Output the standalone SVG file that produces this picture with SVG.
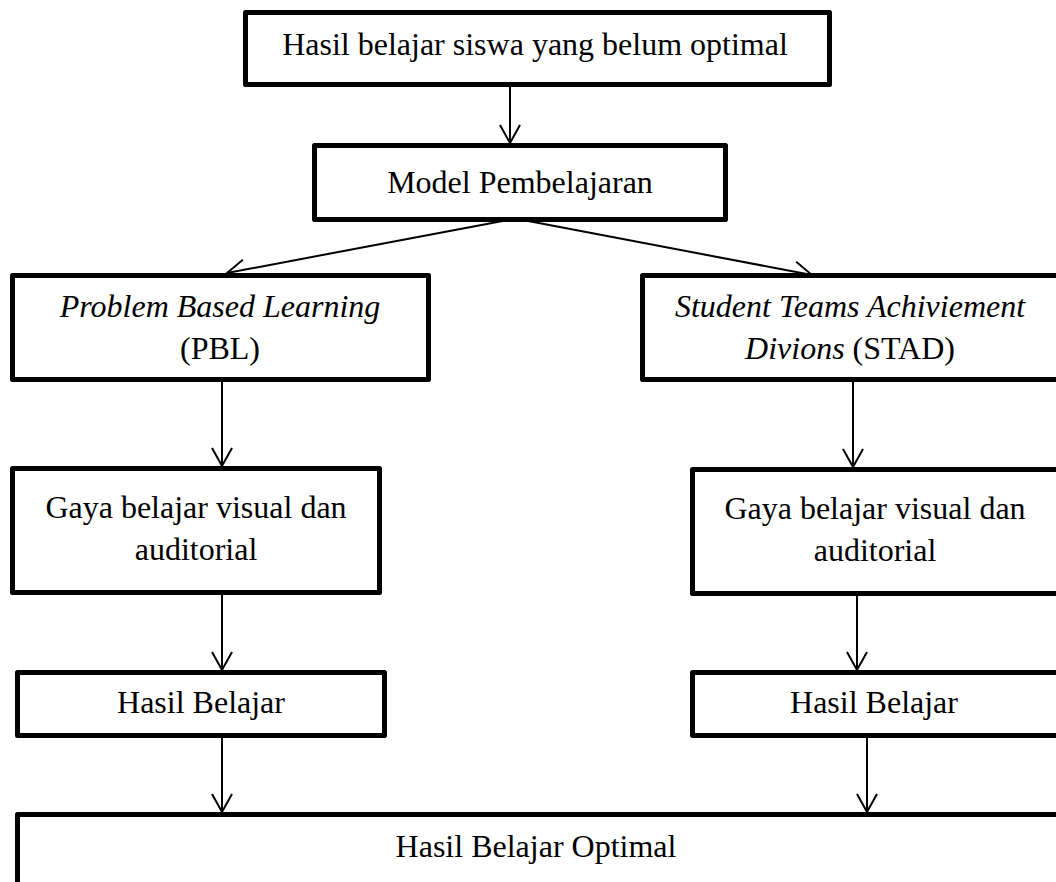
<svg xmlns="http://www.w3.org/2000/svg" width="1056" height="882" viewBox="0 0 1056 882">
<style>
.box{fill:#fff;stroke:#000;stroke-width:5;stroke-linejoin:round}
.t{font-family:"Liberation Serif","Times New Roman",serif;font-size:32px;fill:#000;text-anchor:middle}
.i{font-style:italic}
.c{stroke:#000;stroke-width:2;fill:none}
</style>
<defs>
<marker id="ah" markerUnits="userSpaceOnUse" markerWidth="24" markerHeight="24" viewBox="-20 -12 22 24" refX="0" refY="0" orient="auto">
<path d="M-18,-10 L0,0 L-18,10" fill="none" stroke="#000" stroke-width="2"/>
</marker>
</defs>
<rect width="1056" height="882" fill="#fff"/>
<g id="connectors">
<line class="c" x1="510" y1="87" x2="510" y2="143" marker-end="url(#ah)"/>
<line class="c" x1="508" y1="220" x2="227" y2="273" marker-end="url(#ah)"/>
<line class="c" x1="523" y1="220" x2="812" y2="275" marker-end="url(#ah)"/>
<line class="c" x1="222" y1="382" x2="222" y2="466" marker-end="url(#ah)"/>
<line class="c" x1="853" y1="382" x2="853" y2="467" marker-end="url(#ah)"/>
<line class="c" x1="222" y1="595" x2="222" y2="670" marker-end="url(#ah)"/>
<line class="c" x1="857" y1="596" x2="857" y2="670" marker-end="url(#ah)"/>
<line class="c" x1="222" y1="738" x2="222" y2="812" marker-end="url(#ah)"/>
<line class="c" x1="867" y1="738" x2="867" y2="812" marker-end="url(#ah)"/>
</g>
<g id="n-top">
<rect class="box" x="245.5" y="12.5" width="584" height="72"/>
<text class="t" x="535" y="55">Hasil belajar siswa yang belum optimal</text>
</g>
<g id="n-model">
<rect class="box" x="314.5" y="145.5" width="411" height="74"/>
<text class="t" x="520" y="193">Model Pembelajaran</text>
</g>
<g id="n-pbl">
<rect class="box" x="12.5" y="275.5" width="416" height="104"/>
<text class="t i" x="220" y="317">Problem Based Learning</text>
<text class="t" x="220" y="359">(PBL)</text>
</g>
<g id="n-stad">
<rect class="box" x="642.5" y="275.5" width="430" height="104"/>
<text class="t i" x="850" y="317">Student Teams Achiviement</text>
<text class="t" x="850" y="359"><tspan class="i">Divions</tspan> (STAD)</text>
</g>
<g id="n-gaya-l">
<rect class="box" x="12.5" y="468.5" width="367" height="124"/>
<text class="t" x="196" y="518">Gaya belajar visual dan</text>
<text class="t" x="196" y="560">auditorial</text>
</g>
<g id="n-gaya-r">
<rect class="box" x="692.5" y="469.5" width="400" height="124"/>
<text class="t" x="875" y="519">Gaya belajar visual dan</text>
<text class="t" x="875" y="561">auditorial</text>
</g>
<g id="n-hasil-l">
<rect class="box" x="17.5" y="672.5" width="367" height="63"/>
<text class="t" x="201" y="713">Hasil Belajar</text>
</g>
<g id="n-hasil-r">
<rect class="box" x="692.5" y="672.5" width="400" height="63"/>
<text class="t" x="874" y="713">Hasil Belajar</text>
</g>
<g id="n-optimal">
<rect class="box" x="17.5" y="814.5" width="1100" height="100"/>
<text class="t" x="536" y="857">Hasil Belajar Optimal</text>
</g>
</svg>
